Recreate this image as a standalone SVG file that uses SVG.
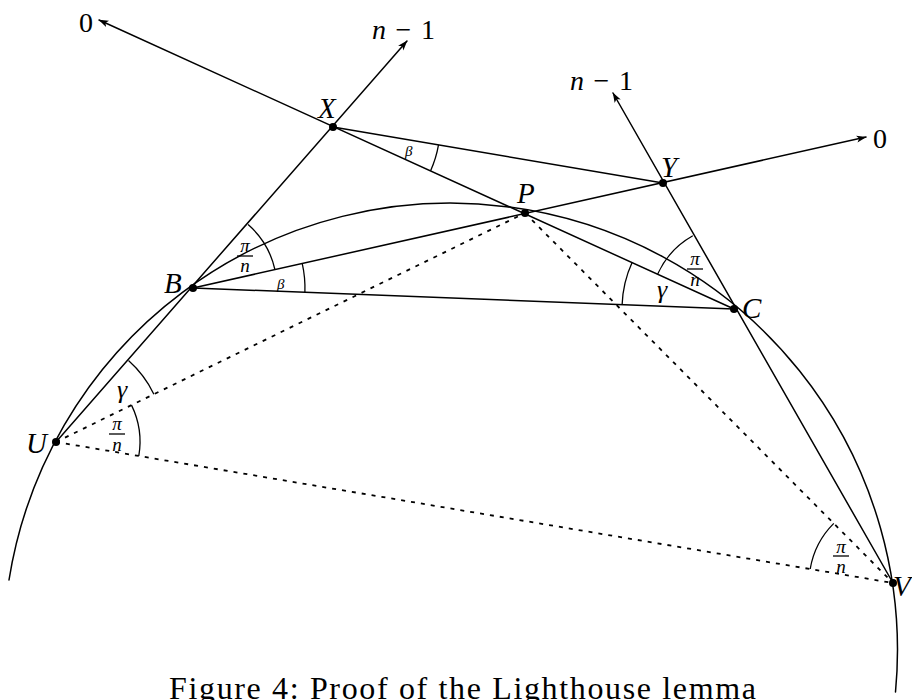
<svg xmlns="http://www.w3.org/2000/svg" width="912" height="700" viewBox="0 0 912 700">
<style>
.ln{stroke:#000;stroke-width:1.5;fill:none;stroke-linecap:round}
.ds{stroke:#000;stroke-width:1.8;fill:none;stroke-dasharray:4 6}
.ag{stroke:#000;stroke-width:1.3;fill:none}
.pt{font-family:"Liberation Serif",serif;font-style:italic;font-size:29px;fill:#000}
.lb{font-family:"Liberation Serif",serif;font-size:28px;fill:#000}
.gr{font-family:"Liberation Serif",serif;font-style:italic;font-size:26px;fill:#000}
.sm{font-family:"Liberation Serif",serif;font-style:italic;font-size:15px;fill:#000}
.fr{font-family:"Liberation Serif",serif;font-style:italic;font-size:19px;fill:#000;text-anchor:middle}
.cap{font-family:"Liberation Serif",serif;font-size:32px;fill:#000}
</style>
<defs>
<marker id="ah" viewBox="0 0 10 8" refX="9.5" refY="4" markerWidth="10" markerHeight="8" orient="auto" markerUnits="userSpaceOnUse">
<path d="M0,0.5 L10,4 L0,7.5 L2.5,4 Z" fill="#000"/>
</marker>
</defs>
<rect width="912" height="700" fill="#fff"/>

<g id="connectors">
<path class="ln" d="M 9 580 A 447 447 0 0 1 895.5 692"/>
<line class="ln" x1="734" y1="309" x2="99" y2="20" marker-end="url(#ah)"/>
<line class="ln" x1="56" y1="442" x2="407" y2="41" marker-end="url(#ah)"/>
<line class="ln" x1="193" y1="288" x2="866" y2="137" marker-end="url(#ah)"/>
<line class="ln" x1="893" y1="583" x2="613" y2="93" marker-end="url(#ah)"/>
<line class="ln" x1="333" y1="127" x2="663" y2="183"/>
<line class="ln" x1="193" y1="288" x2="734" y2="309"/>
<line class="ds" x1="56" y1="442" x2="525" y2="213"/>
<line class="ds" x1="525" y1="213" x2="893" y2="583"/>
<line class="ds" x1="56" y1="442" x2="893" y2="583"/>
</g>

<g id="angles">
<path class="ag" d="M 438.5 144.9 A 107 107 0 0 1 430.6 170.7"/>
<path class="ag" d="M 248.1 224.6 A 84 84 0 0 1 274.9 269.5"/>
<path class="ag" d="M 302.2 263.3 A 112 112 0 0 1 304.9 292.3"/>
<path class="ag" d="M 622.1 304.7 A 112 112 0 0 1 632.2 262.3"/>
<path class="ag" d="M 657.7 273.9 A 84 84 0 0 1 692.8 235.8"/>
<path class="ag" d="M 128.5 360.6 A 109 109 0 0 1 153.9 394.2"/>
<path class="ag" d="M 131.5 405.1 A 84 84 0 0 1 138.8 456"/>
<path class="ag" d="M 810.2 569 A 84 84 0 0 1 833.8 523.4"/>
<text class="sm" x="405" y="156">β</text>
<text class="sm" x="277" y="289">β</text>
<text class="fr" x="245" y="252">π</text><line class="ag" x1="237" y1="256" x2="253" y2="256"/><text class="fr" x="245" y="272">n</text>
<text class="gr" x="657" y="298">γ</text>
<text class="fr" x="695" y="265">π</text><line class="ag" x1="687" y1="269" x2="703" y2="269"/><text class="fr" x="695" y="286">n</text>
<text class="gr" x="117" y="398">γ</text>
<text class="fr" x="117" y="430">π</text><line class="ag" x1="109" y1="434" x2="125" y2="434"/><text class="fr" x="117" y="451">n</text>
<text class="fr" x="841" y="553">π</text><line class="ag" x1="833" y1="556" x2="849" y2="556"/><text class="fr" x="841" y="573">n</text>
</g>

<g id="ray-labels">
<text class="lb" x="86" y="32" text-anchor="middle">0</text>
<text class="lb" x="880" y="148" text-anchor="middle">0</text>
<text class="lb" x="372" y="39" textLength="63"><tspan font-style="italic">n</tspan>−1</text>
<text class="lb" x="570" y="90" textLength="63"><tspan font-style="italic">n</tspan>−1</text>
</g>

<g id="X"><circle cx="333" cy="127" r="4"/><text class="pt" x="318" y="118">X</text></g>
<g id="Y"><circle cx="663" cy="183" r="4"/><text class="pt" x="661" y="177">Y</text></g>
<g id="P"><circle cx="525" cy="213" r="4"/><text class="pt" x="517" y="203">P</text></g>
<g id="B"><circle cx="193" cy="288" r="4"/><text class="pt" x="164" y="293">B</text></g>
<g id="C"><circle cx="734" cy="309" r="4"/><text class="pt" x="742" y="318">C</text></g>
<g id="U"><circle cx="56" cy="442" r="4"/><text class="pt" x="26" y="453">U</text></g>
<g id="V"><circle cx="893" cy="583" r="4"/><text class="pt" x="893" y="596">V</text></g>

<text class="cap" x="169" y="699" textLength="587">Figure 4:  Proof of the Lighthouse lemma</text>
</svg>
